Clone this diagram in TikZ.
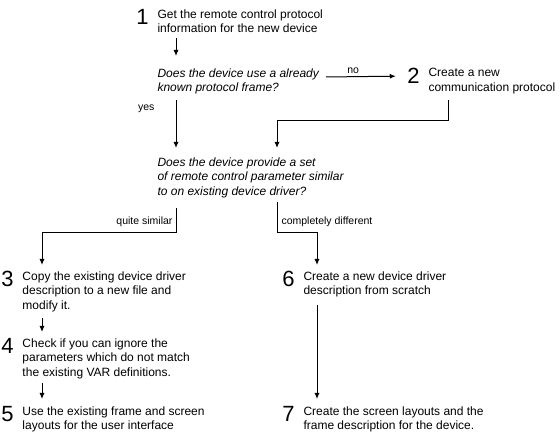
\documentclass[tikz,border=0pt]{standalone}
\usepackage{fontspec}
\setmainfont{Liberation Sans}
\usepackage{tikz}
\usetikzlibrary{positioning}
\usetikzlibrary{arrows.meta}

\begin{document}
\begin{tikzpicture}[x=1pt, y=-1pt, line width=1pt,
    txt/.style={anchor=north west, inner sep=0pt, align=left, font=\fontsize{12}{14.5}\selectfont},
    ask/.style={txt, font=\fontsize{12}{14.5}\selectfont\itshape},
    num/.style={anchor=north east, inner sep=0pt, font=\fontsize{22}{22}\selectfont},
    lbl/.style={inner sep=0pt, font=\fontsize{10.5}{12}\selectfont},
    arr/.style={-{Latex[length=6pt,width=5pt]}}]
  \useasboundingbox (0,0) rectangle (560,435);

  % steps and questions
  \node[txt] (get) at (157,9) {Get the remote control protocol\\information for the new device};
  \node[num, left=8pt of get.north west, anchor=north east] (n1) {1};
  \node[ask] (known) at (157,68) {Does the device use a already\\known protocol frame?};
  \node[txt] (proto) at (428,68) {Create a new\\communication protocol};
  \node[num, left=8pt of proto.north west, anchor=north east] (n2) {2};
  \node[ask] (similar) at (157,157) {Does the device provide a set\\of remote control parameter similar\\to on existing device driver?};
  \node[txt] (copy) at (22,271) {Copy the existing device driver\\description to a new file and\\modify it.};
  \node[num, left=8pt of copy.north west, anchor=north east] (n3) {3};
  \node[txt] (check) at (22,338) {Check if you can ignore the\\parameters which do not match\\the existing VAR definitions.};
  \node[num, left=8pt of check.north west, anchor=north east] (n4) {4};
  \node[txt] (reuse) at (22,406) {Use the existing frame and screen\\layouts for the user interface};
  \node[num, left=8pt of reuse.north west, anchor=north east] (n5) {5};
  \node[txt] (scratch) at (303,271) {Create a new device driver\\description from scratch};
  \node[num, left=8pt of scratch.north west, anchor=north east] (n6) {6};
  \node[txt] (screens) at (303,406) {Create the screen layouts and the\\frame description for the device.};
  \node[num, left=8pt of screens.north west, anchor=north east] (n7) {7};

  % connectors
  \draw[arr] ([shift={(19,29)}]get.north west) -- ([shift={(19,-12)}]known.north west);
  \draw[arr] ([shift={(169,9)}]known.north west) -- node[lbl, pos=0.39, above=3pt] {no} ([xshift=-11pt]n2.west);
  \draw[arr] ([shift={(19,32)}]known.north west) -- node[lbl, pos=0.19, left=21pt] {yes} ([shift={(19,-9)}]similar.north west);
  \draw[arr] ([shift={(20,32)}]proto.north west) |- ([shift={(120,-36)}]similar.north west) -- ([shift={(120,-9)}]similar.north west);
  \draw[arr] ([shift={(19,51)}]similar.north west) -- node[lbl, pos=0.55, left=3pt] {quite similar} ++(0,25) -| ([shift={(20,-6)}]copy.north west);
  \draw[arr] ([shift={(120,45)}]similar.north west) -- node[lbl, pos=0.65, right=4pt] {completely different} ++(0,31) -| ([shift={(14,-6)}]scratch.north west);
  \draw[arr] ([shift={(20,47)}]copy.north west) -- ([shift={(20,-6)}]check.north west);
  \draw[arr] ([shift={(20,45)}]check.north west) -- ([shift={(20,-7)}]reuse.north west);
  \draw[arr] ([shift={(14,34)}]scratch.north west) -- ([shift={(14,-7)}]screens.north west);
\end{tikzpicture}
\end{document}
